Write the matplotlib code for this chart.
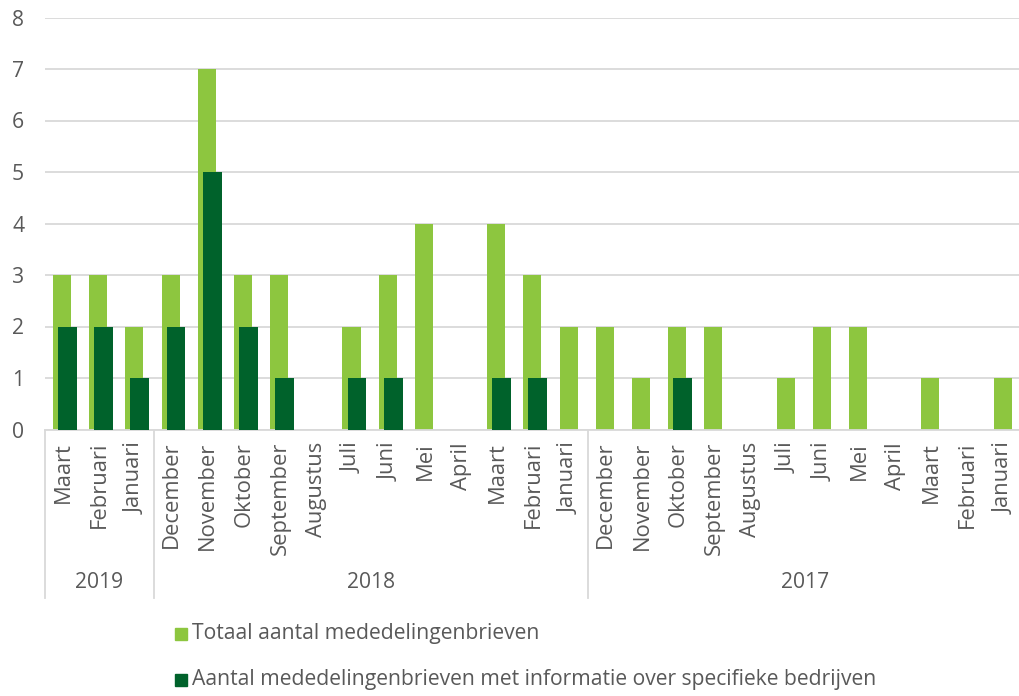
import matplotlib
matplotlib.use("Agg")
import matplotlib.pyplot as plt
from matplotlib.lines import Line2D
from matplotlib.patches import Rectangle
import numpy as np

plt.rcParams['font.family'] = ['Open Sans', 'DejaVu Sans']

# Months, newest first, grouped per year
years = ["2019", "2018", "2017"]
months_per_year = [
    ["Maart", "Februari", "Januari"],
    ["December", "November", "Oktober", "September", "Augustus", "Juli",
     "Juni", "Mei", "April", "Maart", "Februari", "Januari"],
    ["December", "November", "Oktober", "September", "Augustus", "Juli",
     "Juni", "Mei", "April", "Maart", "Februari", "Januari"],
]
totaal = [3, 3, 2,
          3, 7, 3, 3, 0, 2, 3, 4, 0, 4, 3, 2,
          2, 1, 2, 2, 0, 1, 2, 2, 0, 1, 0, 1]
specifiek = [2, 2, 1,
             2, 5, 2, 1, 0, 1, 1, 0, 0, 1, 1, 0,
             0, 0, 1, 0, 0, 0, 0, 0, 0, 0, 0, 0]
series_names = ["Totaal aantal mededelingenbrieven",
                "Aantal mededelingenbrieven met informatie over specifieke bedrijven"]

light = "#8DC63F"
dark = "#00622B"
text_col = "#595959"
grid_col = "#D9D9D9"
fs = 15.2

W, H = 1020, 696
fig = plt.figure(figsize=(W / 100, H / 100), dpi=100)
left_px, right_px, top_px, bottom_px = 45, 1022, 17.5, 429.5
ax = fig.add_axes([left_px / W, 1 - bottom_px / H,
                   (right_px - left_px) / W, (bottom_px - top_px) / H])

labels = [m for group in months_per_year for m in group]
x = np.arange(len(labels))
ax.bar(x - 0.03, totaal, width=0.5, color=light, zorder=2)
ax.bar(x + 0.12, specifiek, width=0.52, color=dark, zorder=3)

ax.set_xlim(-0.5, len(labels) - 0.5)
ax.set_ylim(0, 8)
ax.set_yticks(range(0, 9))
ax.yaxis.grid(True, color=grid_col, linewidth=1.3, zorder=0)
ax.set_axisbelow(True)
for s in ["top", "right", "left"]:
    ax.spines[s].set_visible(False)
ax.spines["bottom"].set_color(grid_col)
ax.spines["bottom"].set_linewidth(1.3)
ax.tick_params(axis="y", length=0, pad=15, labelsize=fs, labelcolor=text_col)
ax.tick_params(axis="x", length=0, pad=9, labelsize=15.8, labelcolor=text_col)
ax.set_xticks(x)
ax.set_xticklabels(labels, rotation=90, va="top", ha="center")

# Year group labels and separators under the axis
span = bottom_px - top_px
sep_bottom = -(598 - bottom_px) / span
start = 0
bounds = [0]
for yr, months in zip(years, months_per_year):
    n = len(months)
    mid = start + (n - 1) / 2
    ax.text(mid, -(582 - bottom_px) / span, yr,
            transform=ax.get_xaxis_transform(), ha="center", va="center",
            fontsize=fs, color=text_col)
    start += n
    bounds.append(start)
for b in bounds[:-1]:
    ax.add_line(Line2D([b - 0.5, b - 0.5], [0, sep_bottom],
                       transform=ax.get_xaxis_transform(), color=grid_col,
                       linewidth=1.3, clip_on=False))

# Legend entries below the chart
for i, (name, col) in enumerate(zip(series_names, [light, dark])):
    yc = 1 - (634 + i * 46) / H
    fig.patches.append(Rectangle((175 / W, yc - 6 / H), 12 / W, 12 / H,
                                 transform=fig.transFigure, color=col))
    fig.text(192 / W, yc, name, ha="left", va="center", fontsize=fs,
             color=text_col)

fig.savefig("out.png", dpi=100)
